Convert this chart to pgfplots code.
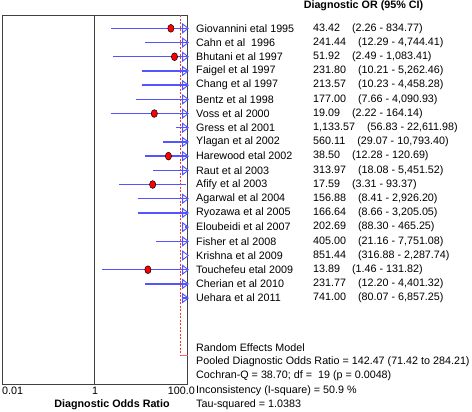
\documentclass[border=0pt]{standalone}
\usepackage{fontspec}
\setmainfont{Liberation Sans}
\usepackage{pgfplots}
\pgfplotsset{compat=1.18}

\pgfdeclareplotmark{rtri}{%
  \pgfpathmoveto{\pgfqpoint{0.5pt}{0pt}}%
  \pgfpathlineto{\pgfqpoint{-5pt}{4.3pt}}%
  \pgfpathlineto{\pgfqpoint{-5pt}{-4.3pt}}%
  \pgfpathclose
  \pgfusepathqstroke}

\definecolor{ciblue}{RGB}{85,85,255}
\definecolor{framegray}{RGB}{64,64,64}
\definecolor{pooledred}{RGB}{255,50,50}

\newcommand{\srow}[4]{%
  \node[anchor=west,inner sep=0pt] at (196,{-(28.3+(#1-1)*14.2)}) {#2};
  \node[anchor=west,inner sep=0pt] at (313,{-(28.3+(#1-1)*14.2)}) {#3\hspace{12pt}(#4)};}

\begin{document}
\begin{tikzpicture}[x=1pt,y=1pt,font=\fontsize{10.75}{12}\selectfont]
\useasboundingbox (0,0) rectangle (472,-412);
\begin{axis}[
  at={(2pt,-15pt)}, anchor=north west,
  scale only axis, width=185.7pt, height=369pt,
  xmode=log, xmin=0.01, xmax=100,
  ymin=0.06, ymax=26.05, y dir=reverse,
  axis line style={draw=framegray, line width=0.9pt},
  xtick=\empty, ytick=\empty, clip=false]
% line of no effect
\addplot[draw=framegray, line width=0.9pt] coordinates {(1,0.06) (1,26.05)};
% pooled (lower bound) dashed line
\addplot[draw=pooledred, dash pattern=on 2pt off 1.5pt, line width=1pt] coordinates {(71.42,0.06) (71.42,24.06)};
\addplot[draw=pooledred!75, line width=1pt] coordinates {(71.42,24.06) (100,24.06)};
% confidence intervals (cut at the axis edge, 100)
\addplot[draw=ciblue, line width=1.4pt, unbounded coords=jump] coordinates {
 (2.26,1) (100,1) (nan,nan)
 (12.29,2) (100,2) (nan,nan)
 (2.49,3) (100,3) (nan,nan)
 (10.21,4) (100,4) (nan,nan)
 (10.23,5) (100,5) (nan,nan)
 (7.66,6) (100,6) (nan,nan)
 (2.22,7) (100,7) (nan,nan)
 (56.83,8) (100,8) (nan,nan)
 (29.07,9) (100,9) (nan,nan)
 (12.28,10) (100,10) (nan,nan)
 (18.08,11) (100,11) (nan,nan)
 (3.31,12) (93.37,12) (nan,nan)
 (8.41,13) (100,13) (nan,nan)
 (8.66,14) (100,14) (nan,nan)
 (88.30,15) (100,15) (nan,nan)
 (21.16,16) (100,16) (nan,nan)
 (1.46,18) (100,18) (nan,nan)
 (12.20,19) (100,19) (nan,nan)
 (80.07,20) (100,20)
};
% arrows for intervals beyond 100
\addplot[only marks, mark=rtri, draw=ciblue, mark options={draw=ciblue, line width=0.9pt}] coordinates {
 (100,1) (100,2) (100,3) (100,4) (100,5) (100,6) (100,7) (100,8) (100,9) (100,10)
 (100,11) (100,13) (100,14) (100,15) (100,16) (100,17) (100,18) (100,19) (100,20)
};
% point estimates inside the range
\addplot[only marks, mark=*, mark size=3.9pt,
  mark options={fill=red, draw=black, xscale=0.8, line width=0.5pt}] coordinates {
 (43.42,1) (51.92,3) (19.09,7) (38.50,10) (17.59,12) (13.89,18)
};
\end{axis}
\node[font=\fontsize{10.75}{12}\selectfont\bfseries] at (363.5,-6) {Diagnostic OR (95\% CI)};
\srow{1}{Giovannini etal 1995}{43.42}{2.26 - 834.77}
\srow{2}{Cahn et al\ \ 1996}{241.44}{12.29 - 4,744.41}
\srow{3}{Bhutani et al 1997}{51.92}{2.49 - 1,083.41}
\srow{4}{Faigel et al 1997}{231.80}{10.21 - 5,262.46}
\srow{5}{Chang et al 1997}{213.57}{10.23 - 4,458.28}
\srow{6}{Bentz et al 1998}{177.00}{7.66 - 4,090.93}
\srow{7}{Voss et al 2000}{19.09}{2.22 - 164.14}
\srow{8}{Gress et al 2001}{1,133.57}{56.83 - 22,611.98}
\srow{9}{Ylagan et al 2002}{560.11}{29.07 - 10,793.40}
\srow{10}{Harewood etal 2002}{38.50}{12.28 - 120.69}
\srow{11}{Raut et al 2003}{313.97}{18.08 - 5,451.52}
\srow{12}{Afify et al 2003}{17.59}{3.31 - 93.37}
\srow{13}{Agarwal et al 2004}{156.88}{8.41 - 2,926.20}
\srow{14}{Ryozawa et al 2005}{166.64}{8.66 - 3,205.05}
\srow{15}{Eloubeidi et al 2007}{202.69}{88.30 - 465.25}
\srow{16}{Fisher et al 2008}{405.00}{21.16 - 7,751.08}
\srow{17}{Krishna et al 2009}{851.44}{316.88 - 2,287.74}
\srow{18}{Touchefeu etal 2009}{13.89}{1.46 - 131.82}
\srow{19}{Cherian et al 2010}{231.77}{12.20 - 4,401.32}
\srow{20}{Uehara et al 2011}{741.00}{80.07 - 6,857.25}
\begin{scope}[every node/.style={anchor=west,inner sep=0pt}]
\node at (196,-347.7) {Random Effects Model};
\node at (196,-362) {Pooled Diagnostic Odds Ratio = 142.47 (71.42 to 284.21)};
\node at (196,-375.7) {Cochran-Q = 38.70; df = \ 19 (p = 0.0048)};
\node at (196,-391) {Inconsistency (I-square) = 50.9 \%};
\node at (196,-404.7) {Tau-squared = 1.0383};
\end{scope}
\node[anchor=west,inner sep=0pt] at (2,-391) {0.01};
\node[inner sep=0pt] at (95,-391) {1};
\node[anchor=east,inner sep=0pt] at (195,-391) {100.0};
\node[font=\fontsize{10.75}{12}\selectfont\bfseries] at (112,-404.5) {Diagnostic Odds Ratio};
\end{tikzpicture}
\end{document}
